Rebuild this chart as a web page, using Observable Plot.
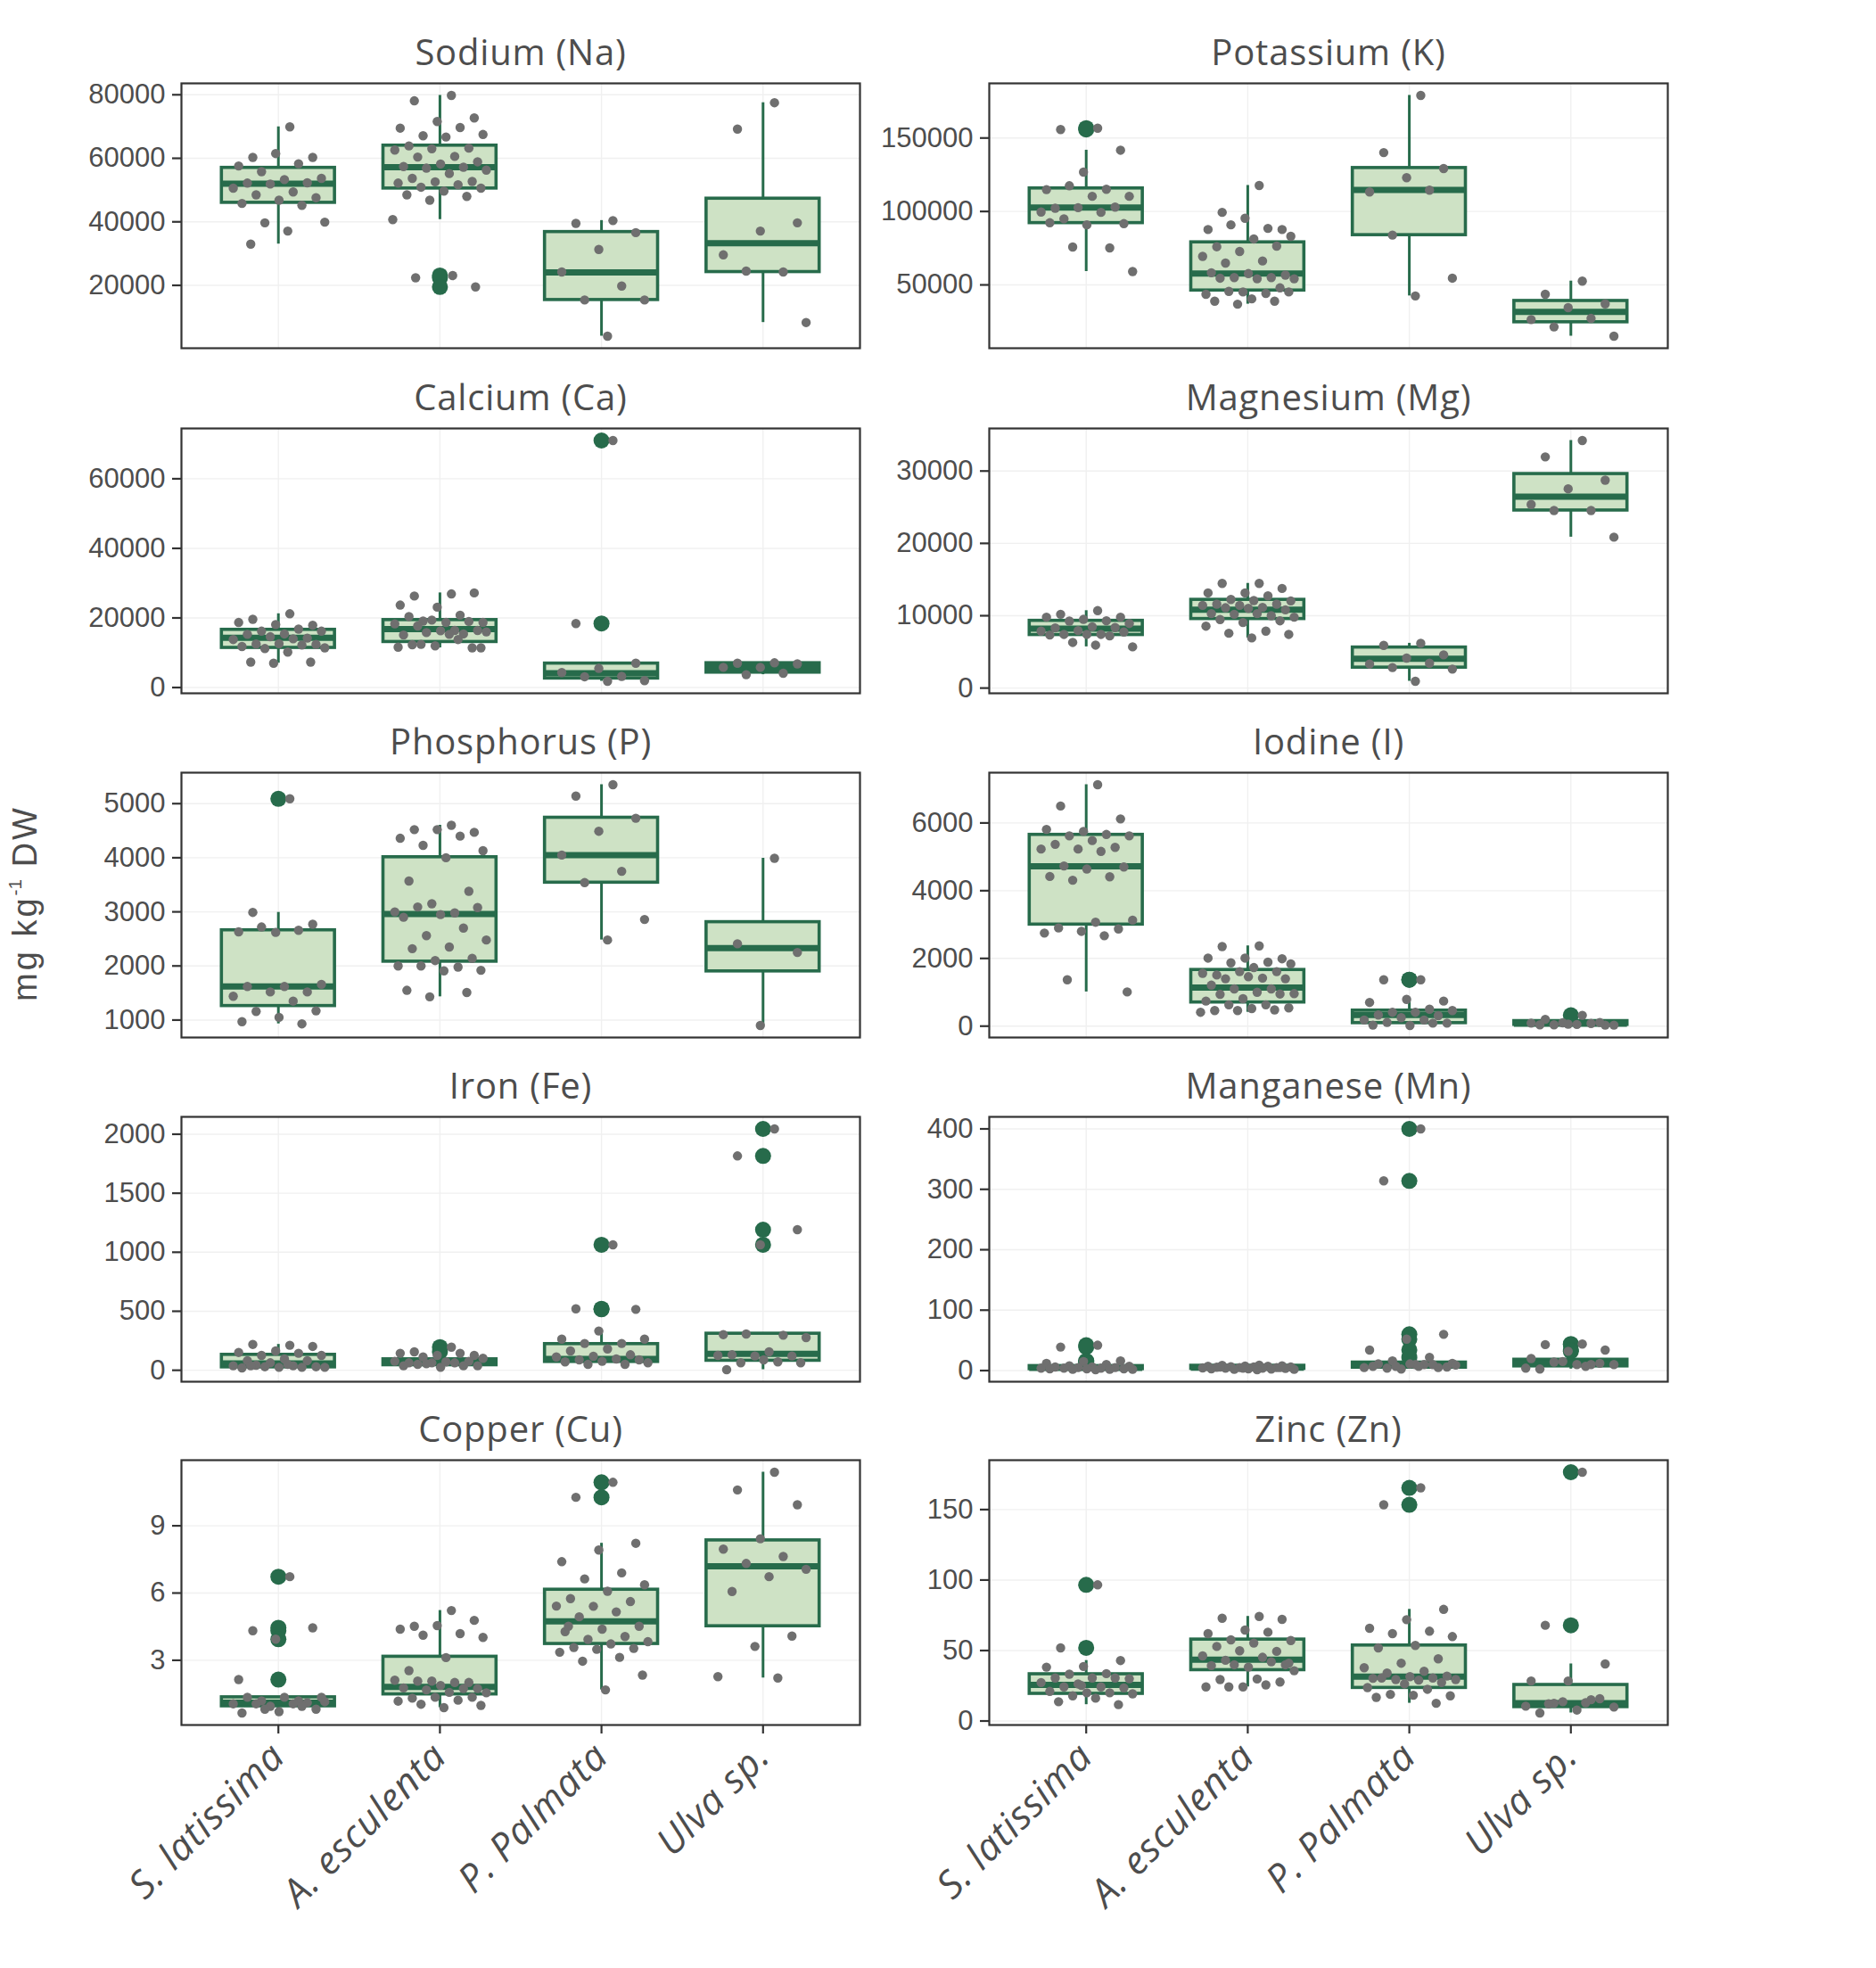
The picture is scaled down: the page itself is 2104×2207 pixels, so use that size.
<!DOCTYPE html>
<html>
<head>
<meta charset="utf-8">
<script src="https://cdn.jsdelivr.net/npm/d3@7"></script>
<script src="https://cdn.jsdelivr.net/npm/@observablehq/plot@0.6"></script>
<style>
  html, body { margin: 0; padding: 0; background: #ffffff; }
  #fig { position: relative; width: 2104px; height: 2207px; background: #ffffff; overflow: hidden; }
  .panel { position: absolute; }
  .panel svg { overflow: visible; }
  .title text { letter-spacing: 0.8px; }
  .species text { letter-spacing: 1px; }
  #ylab {
    position: absolute; left: 28px; top: 1013px; white-space: nowrap;
    transform: translate(-50%, -50%) rotate(-90deg);
    font-family: "Liberation Sans", Arial, sans-serif; font-size: 38px; color: #4d4d4d;
    letter-spacing: 3px; line-height: 1;
  }
  #ylab sup { font-size: 55%; letter-spacing: 0; vertical-align: 0.8em; line-height: 0; }
</style>
</head>
<body>
<div id="fig">
  <div id="ylab">mg kg<sup>-1</sup> DW</div>
</div>
<script>
// Seaweed species (x categories)
const species = ["S. latissima", "A. esculenta", "P. Palmata", "Ulva sp."];

// Facet titles
const elements = ["Sodium (Na)", "Potassium (K)", "Calcium (Ca)", "Magnesium (Mg)", "Phosphorus (P)",
                  "Iodine (I)", "Iron (Fe)", "Manganese (Mn)", "Copper (Cu)", "Zinc (Zn)"];

// Individual samples, mg/kg DW, one list per species
const sodium = [
  [69900,60300,60300,61500,57600,58300,55800,53700,53300,52200,52300,51900,50600,49400,48500,47600,46800,45800,45200,39700,39900,37100,33000],
  [79800,78100,72700,71600,69500,69700,67100,67500,66700,63900,63200,63000,62600,60600,60400,58900,58200,57400,57200,56900,56300,55200,53700,52700,52600,52200,51700,50900,50600,49700,48500,48000,46800,40700,23100,22400,19500],
  [40400,39500,36600,31300,24200,19800,15400,15400,4000],
  [77500,69200,39700,37100,29600,24200,24500,8300]
];
const potassium = [
  [156700,155800,141700,126800,114900,115100,117500,110300,110300,102200,103000,102600,99600,99400,95000,91700,90900,92300,75200,75800,59100],
  [117700,99400,87700,95400,87700,88500,90900,83100,81300,76000,76400,72800,69400,66300,64900,56700,57700,58300,55000,55000,54200,54200,54600,48000,45200,43600,44200,45600,45200,40500,38900,38900,36900],
  [179000,140100,129200,123000,113300,114500,83900,54600,42500],
  [52600,43600,37100,34500,26400,27200,21400,15100]
];
const calcium = [
  [21200,19600,17900,18100,18700,16800,16200,16200,15400,15300,14200,14600,13800,14000,12500,12400,12600,11800,12200,11200,11400,10200,7300,7300,7000],
  [26900,26300,27200,23100,23700,20800,19100,18700,18700,20400,19000,19400,18300,16400,17700,16400,16300,15100,15400,15800,16000,15300,12300,11400,12000,11600,13800,12400,11400],
  [71000,18400,7000,5500,4300,3200,3100,2000,1800],
  [7100,7000,6800,5800,5800,4100,3700]
];
const magnesium = [
  [10700,10200,9800,9500,9800,9300,9260,8930,8480,8320,8360,7950,7870,7420,7420,7750,7420,7340,7210,6310,5700,5940],
  [14470,14470,13770,13150,13150,12740,12250,12050,12090,11600,11600,11430,11430,11150,11100,10820,11020,10290,10000,10200,9800,10290,9470,9300,9060,8560,7870,7580,7420,6930],
  [6190,5900,4590,4140,3320,3440,2830,2620,940],
  [34220,31960,28730,27540,25370,24550,24550,20860]
];
const phosphorus = [
  [5090,2990,2770,2620,2630,2660,2720,1660,1620,1620,1520,1520,1440,1350,1160,1170,1050,970,930],
  [4600,4520,4470,4520,4360,4400,4230,4130,4000,3570,3380,3150,3000,2980,3090,3080,2950,2900,2700,2560,2480,2350,2320,2140,2100,2000,1980,2000,1920,1910,1550,1510,1430],
  [5350,5140,4730,4490,4050,3750,3540,2860,2480],
  [3990,2410,2250,900]
];
const iodine = [
  [7130,6500,6120,5750,5810,5660,5620,5620,5480,5370,5280,5230,5230,5160,4730,4700,4640,4420,4410,4310,3130,3070,2900,2870,2800,2750,2670,1370,1010],
  [2370,2350,1990,2010,2010,1890,1870,1840,1730,1510,1610,1610,1560,1420,1400,1400,1460,1210,1100,1100,960,1000,940,950,810,740,630,630,540,520,460,480,460,410],
  [1370,1370,740,790,700,500,410,460,410,330,310,250,180,180,110,90,20,30,90],
  [320,200,30,60,90,80,40,30,50,40,110,100]
];
const iron = [
  [212,219,202,164,151,144,126,126,96,81,81,63,38,38,43,30,25,20,25,30,25,50,38],
  [196,156,126,126,144,144,113,101,71,63,76,63,76,63,50,38,25,38,38,55],
  [1063,521,516,333,264,227,227,264,181,164,131,118,113,96,88,88,76,71,50,50,63],
  [2045,1816,1191,1063,302,297,307,277,156,131,121,121,126,71,63,63,88,5]
];
const manganese = [
  [42,39,16,15,12,10,8,7,6,6,5,5,4,4,4,3,3,3,2,2,2,1.5],
  [9,8.5,8,7.5,7,7,6.5,6,6,5.5,5,5,4.5,4,4,3.5,3,3,2.5,2,2,1.5,6,5,4],
  [400,314,60,52,34,22,16,12,10,11,5,2.5,5,10,4,6,11,7,10,7,9,7],
  [44,43,34,32,20,10,14,10,10,2.5,12,15,4,7]
];
const copper = [
  [6.73,4.32,4.45,3.94,2.14,1.19,1.19,1.35,1.35,1.35,1.11,0.95,1.06,1.06,1.06,0.82,0.71,0.65,0.95,0.82,1.15],
  [5.22,4.52,4.78,4.55,4.39,4.19,4.12,4.02,3.12,2.54,2.01,2.07,2.11,2.01,2.07,1.74,1.88,1.77,1.74,1.68,1.55,1.57,1.31,1.35,1.35,1.18,1.22,1.04,0.99,0.89],
  [10.94,10.27,8.22,7.92,7.40,6.90,6.63,6.37,6.08,5.75,5.62,5.41,5.42,5.16,4.94,4.52,4.39,4.28,4.06,3.93,3.83,3.73,3.57,3.53,3.49,3.36,3.13,2.96,2.34,1.68,4.52],
  [11.39,10.6,9.94,8.42,7.96,7.63,7.32,7.06,6.73,6.07,4.08,3.62,2.27,2.21]
];
const zinc = [
  [96.6,51.9,42.9,38.7,38.2,33.6,33.2,30.0,30.5,30.5,30.5,26.3,27.3,24.2,24.2,23.5,20.0,21.0,20.0,17.9,19.3,16.2,13.7,11.6,25.2],
  [74.2,72.9,72.1,64.5,62.0,63.0,57.6,57.1,55.3,52.9,49.4,49.8,46.2,45.2,43.1,39.9,38.2,39.3,42.0,39.9,35.7,29.8,29.4,27.7,24.2,24.2,25.6,24.2,41.0],
  [165.4,153.4,79.2,71.9,65.8,63.7,62.0,59.9,53.6,51.9,44.1,41.0,37.8,35.3,34.0,31.9,31.5,30.3,30.5,29.4,29.4,29.0,30.5,27.3,26.3,23.7,22.5,18.9,17.9,18.3,16.8,12.6],
  [176.5,67.9,40.5,28.4,28.4,15.1,12.6,9.9,7.8,5.7,15.8,13.7,10.5,13.0,12.2]
];

// Box summaries per species: [lower whisker, Q1, median, Q3, upper whisker]
const sodiumBox     = [[33000,46000,52000,57000,69900],[40700,50500,57200,64000,79800],[4000,15400,24100,36800,40400],[8300,24200,33300,47300,77500]];
const potassiumBox  = [[59100,92100,102600,115700,141700],[36900,46200,57700,79000,117700],[42500,83900,114700,129600,179000],[15100,24600,31700,39100,52600]];
const calciumBox    = [[7000,11400,14300,16600,21200],[11400,13100,16800,19400,27200],[1800,2600,4100,6900,7000],[3700,4300,5800,7000,7100]];
const magnesiumBox  = [[5700,7340,8200,9300,10700],[6930,9550,10820,12200,14470],[940,2830,4060,5610,6190],[20860,24550,26470,29590,34220]];
const phosphorusBox = [[930,1260,1620,2660,2990],[1430,2080,2960,4010,4600],[2480,3540,4050,4740,5350],[900,1900,2330,2810,3990]];
const iodineBox     = [[1010,3000,4720,5650,7130],[410,700,1140,1660,2370],[20,90,330,460,790],[30,40,75,150,200]];
const ironBox       = [[20,25,58,131,219],[25,43,63,93,144],[50,71,96,222,333],[5,81,139,310,310]];
const manganeseBox  = [[1.5,2.5,4.5,7.5,10],[1.5,3,5,8,9],[2.5,4.9,8.9,13.3,16],[2.5,7,12,18,20]];
const copperBox     = [[0.65,0.95,1.11,1.35,1.35],[0.89,1.48,1.81,3.16,5.22],[1.68,3.73,4.74,6.15,8.22],[2.21,4.52,7.19,8.35,11.39]];
const zincBox       = [[11.6,19.3,25.6,33.2,42.9],[24.2,36.1,43.5,57.8,74.2],[12.6,23.5,31.5,53.6,79.2],[5.7,9.9,12.6,25.6,40.5]];

// Y tick values per facet
const sodiumTicks     = [20000, 40000, 60000, 80000];
const potassiumTicks  = [50000, 100000, 150000];
const calciumTicks    = [0, 20000, 40000, 60000];
const magnesiumTicks  = [0, 10000, 20000, 30000];
const phosphorusTicks = [1000, 2000, 3000, 4000, 5000];
const iodineTicks     = [0, 2000, 4000, 6000];
const ironTicks       = [0, 500, 1000, 1500, 2000];
const manganeseTicks  = [0, 100, 200, 300, 400];
const copperTicks     = [3, 6, 9];
const zincTicks       = [0, 50, 100, 150];

const facets = [
  [sodium, sodiumBox, sodiumTicks], [potassium, potassiumBox, potassiumTicks],
  [calcium, calciumBox, calciumTicks], [magnesium, magnesiumBox, magnesiumTicks],
  [phosphorus, phosphorusBox, phosphorusTicks], [iodine, iodineBox, iodineTicks],
  [iron, ironBox, ironTicks], [manganese, manganeseBox, manganeseTicks],
  [copper, copperBox, copperTicks], [zinc, zincBox, zincTicks]
];

// Layout of the 2 x 5 grid of panels
const colLeft = [203, 1109];
const rowTop = [93, 480, 866, 1252, 1637];
const panelW = 761, panelH = 297;
const green = "#276b4b", boxFill = "#cee2c5", pointGray = "#6f6f6f";
const halfBox = 0.35, jitterWidth = 0.3;
const headFont = "'Open Sans', Lato, sans-serif";

const fig = document.getElementById("fig");

facets.forEach(([vals, box, ticks], f) => {
  const col = f % 2, row = Math.floor(f / 2);
  const bottom = row === 4;
  const mLeft = col === 0 ? 203 : 119;
  const mTop = 80, mRight = 14, mBottom = bottom ? 320 : 8;

  const boxes = box.map(([lo, q1, med, q3, hi], i) => ({i, lo, q1, med, q3, hi}));
  // every sample, spread horizontally with a deterministic jitter
  const points = vals.flatMap((list, i) => list.map((v, k) => ({i, v, j: (((k + 1) * 0.6180339887) % 1 - 0.5) * 2 * jitterWidth})));
  // samples beyond the whiskers, drawn on the category centre
  const outliers = points.filter(d => d.v < box[d.i][0] || d.v > box[d.i][4]);

  const [vmin, vmax] = d3.extent(points, d => d.v);
  const pad = (vmax - vmin) * 0.05;

  const chart = Plot.plot({
    width: mLeft + panelW + mRight,
    height: mTop + panelH + mBottom,
    marginLeft: mLeft, marginTop: mTop, marginRight: mRight, marginBottom: mBottom,
    style: {background: "transparent", fontFamily: "'Liberation Sans', Arial, sans-serif", overflow: "visible"},
    x: {type: "linear", domain: [-0.6, 3.6], axis: null},
    y: {domain: [vmin - pad, vmax + pad], axis: null},
    marks: [
      Plot.gridY(ticks, {stroke: "#f0f0f0", strokeOpacity: 1, strokeWidth: 1.4}),
      Plot.gridX([0, 1, 2, 3], {stroke: "#f0f0f0", strokeOpacity: 1, strokeWidth: 1.4}),
      Plot.ruleX(boxes, {x: "i", y1: "lo", y2: "q1", stroke: green, strokeWidth: 3}),
      Plot.ruleX(boxes, {x: "i", y1: "q3", y2: "hi", stroke: green, strokeWidth: 3}),
      Plot.rect(boxes, {x1: d => d.i - halfBox, x2: d => d.i + halfBox, y1: "q1", y2: "q3",
                        fill: boxFill, stroke: green, strokeWidth: 3.6}),
      Plot.ruleY(boxes, {y: "med", x1: d => d.i - halfBox, x2: d => d.i + halfBox, stroke: green, strokeWidth: 7}),
      Plot.dot(outliers, {x: "i", y: "v", r: 9, fill: green, stroke: null}),
      Plot.dot(points, {x: d => d.i + d.j, y: "v", r: 5.2, fill: pointGray, stroke: null}),
      Plot.frame({stroke: "#333333", strokeWidth: 2.2}),
      Plot.axisY(ticks, {tickSize: 10, tickPadding: 8, stroke: "#333333", strokeWidth: 2.2,
                         fill: "#4d4d4d", fontSize: 31, tickFormat: d => String(d), label: null}),
      Plot.text([elements[f]], {frameAnchor: "top", dy: -21, lineAnchor: "bottom", fontSize: 40,
                                fontWeight: 500, fontFamily: headFont, fill: "#4d4d4d", className: "title"}),
      bottom ? Plot.axisX([0, 1, 2, 3], {tickFormat: i => species[i], tickRotate: -45, tickSize: 10, tickPadding: 18,
                                         stroke: "#333333", strokeWidth: 2.2, fill: "#4d4d4d", fontSize: 43,
                                         fontFamily: headFont, fontStyle: "italic", fontWeight: 500,
                                         label: null, className: "species"}) : null
    ]
  });

  const holder = document.createElement("div");
  holder.className = "panel";
  holder.style.left = (colLeft[col] - mLeft) + "px";
  holder.style.top = (rowTop[row] - mTop) + "px";
  holder.appendChild(chart);
  fig.appendChild(holder);
});
</script>
</body>
</html>
